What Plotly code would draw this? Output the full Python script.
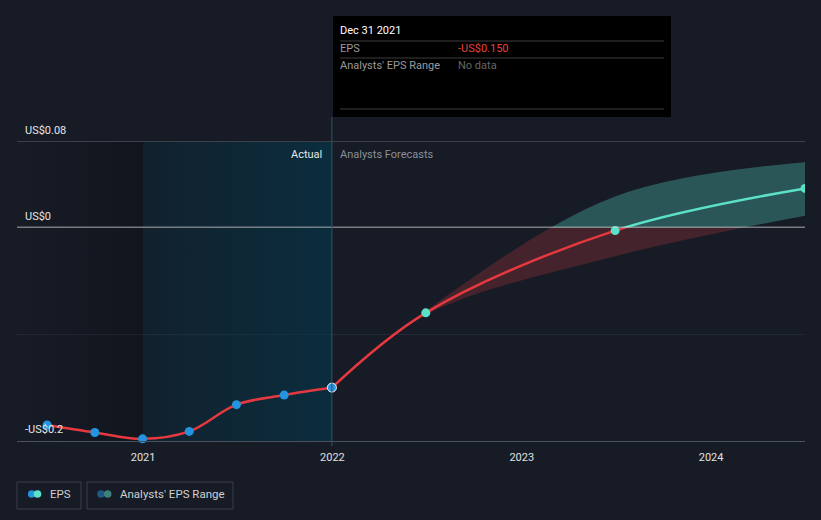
import plotly.graph_objects as go

# EPS actuals (quarterly)
actual_dates = ["2020-06-30", "2020-09-30", "2020-12-31", "2021-03-31",
                "2021-06-30", "2021-09-30", "2021-12-31"]
actual_eps = [-0.185, -0.192, -0.198, -0.191, -0.166, -0.157, -0.150]

# analyst forecasts (start at last actual)
fc_dates = ["2021-12-31", "2022-06-30", "2023-06-30", "2024-06-30"]
fc_eps = [-0.150, -0.080, -0.003, 0.0365]
fc_low = [-0.150, -0.082, -0.027, 0.011]
fc_high = [-0.150, -0.078, 0.029, 0.061]

year_ticks = ["2021-01-01", "2022-01-01", "2023-01-01", "2024-01-01"]
year_labels = ["2021", "2022", "2023", "2024"]

X_RANGE = ["2020-05-03", "2024-06-30"]
Y_LOW = [-0.2, 0]
Y_HIGH = [0, 0.1034]
GRID_TOP = 0.08
ACTUAL_START = "2021-01-01"
LAST_ACTUAL = actual_dates[-1]

BG = "#161b26"
RED = "#e5393f"
TEAL = "#5ce1c9"
BLUE = "#2394df"
FONT = "Roboto"

fig = go.Figure()


def add_region(yaxis, y0, y1):
    # darker stretch before the last year of actuals
    fig.add_trace(go.Scatter(
        x=[X_RANGE[0], ACTUAL_START, ACTUAL_START, X_RANGE[0]],
        y=[y0, y0, y1, y1],
        mode="none", fill="toself", hoverinfo="skip", showlegend=False,
        fillgradient=dict(type="horizontal",
                          colorscale=[[0, "rgba(0,0,0,0.0)"], [1, "rgba(0,0,0,0.22)"]]),
        yaxis=yaxis,
    ))
    # teal shading for the last year of actuals
    fig.add_trace(go.Scatter(
        x=[ACTUAL_START, LAST_ACTUAL, LAST_ACTUAL, ACTUAL_START],
        y=[y0, y0, y1, y1],
        mode="none", fill="toself", hoverinfo="skip", showlegend=False,
        fillgradient=dict(type="horizontal",
                          colorscale=[[0, "rgba(0,60,80,0.18)"], [1, "rgba(0,60,80,0.55)"]]),
        yaxis=yaxis,
    ))


def add_band(yaxis, color):
    fig.add_trace(go.Scatter(
        x=fc_dates, y=fc_low, mode="lines", line=dict(width=0, shape="spline"),
        hoverinfo="skip", showlegend=False, yaxis=yaxis,
    ))
    fig.add_trace(go.Scatter(
        x=fc_dates, y=fc_high, mode="lines", line=dict(width=0, shape="spline"),
        fill="tonexty", fillcolor=color, hoverinfo="skip", showlegend=False, yaxis=yaxis,
    ))


# bottom panel (negative values, red)
add_region("y", Y_LOW[0], 0)
add_band("y", "rgba(230,65,65,0.23)")
fig.add_trace(go.Scatter(x=actual_dates, y=actual_eps, mode="lines",
                         line=dict(color=RED, width=2.5, shape="spline"),
                         showlegend=False, yaxis="y"))
fig.add_trace(go.Scatter(x=fc_dates, y=fc_eps, mode="lines",
                         line=dict(color=RED, width=2.5, shape="spline"),
                         showlegend=False, yaxis="y"))

# top panel (positive values, teal)
add_region("y2", 0, GRID_TOP)
add_band("y2", "rgba(92,225,201,0.3)")
fig.add_trace(go.Scatter(x=fc_dates, y=fc_eps, mode="lines",
                         line=dict(color=TEAL, width=2.5, shape="spline"),
                         showlegend=False, yaxis="y2"))

# markers
fig.add_trace(go.Scatter(
    x=actual_dates, y=actual_eps, mode="markers", cliponaxis=False,
    marker=dict(color=BLUE, size=9,
                line=dict(color=["rgba(0,0,0,0)"] * (len(actual_dates) - 1) + ["#ffffff"],
                          width=1)),
    showlegend=False, yaxis="y",
))
neg = [(d, v) for d, v in zip(fc_dates[1:], fc_eps[1:]) if v < 0]
pos = [(d, v) for d, v in zip(fc_dates[1:], fc_eps[1:]) if v >= 0]
fig.add_trace(go.Scatter(x=[d for d, _ in neg], y=[v for _, v in neg], mode="markers",
                         cliponaxis=False, marker=dict(color=TEAL, size=9),
                         showlegend=False, yaxis="y"))
fig.add_trace(go.Scatter(x=[d for d, _ in pos], y=[v for _, v in pos], mode="markers",
                         cliponaxis=True, marker=dict(color=TEAL, size=9),
                         showlegend=False, yaxis="y2"))

PLOT_H = 324
split = 0.2 / (0.2 + Y_HIGH[1])

fig.update_layout(
    width=821, height=520,
    margin=dict(l=17, r=16, t=117, b=79),
    paper_bgcolor=BG, plot_bgcolor=BG,
    font=dict(family=FONT, color="#e6e6e6", size=11),
    showlegend=False,
    xaxis=dict(range=X_RANGE, tickvals=year_ticks, ticktext=year_labels,
               showgrid=False, zeroline=False, showline=True, linecolor="#4a505c",
               linewidth=1, ticks="", ticklabelstandoff=6,
               tickfont=dict(size=11, color="#e0e0e0")),
    yaxis=dict(domain=[0, split], range=Y_LOW, tickvals=[-0.2, -0.1],
               ticktext=["-US$0.2", ""], gridcolor="#232935", zeroline=False,
               ticklabelposition="inside top", ticklabelstandoff=5, ticklabelshift=-4,
               tickfont=dict(size=11, color="#e6e6e6")),
    yaxis2=dict(domain=[split, 1], range=Y_HIGH, anchor="x", tickvals=[0, GRID_TOP],
                ticktext=["US$0", "US$0.08"], gridcolor="#3a3f4a", zeroline=False,
                ticklabelposition="inside top", ticklabelstandoff=5, ticklabelshift=-4,
                tickfont=dict(size=11, color="#e6e6e6")),
)


def py(px):
    # pixel row -> paper y
    return (441 - px) / PLOT_H


def pxx(px):
    # pixel column -> paper x
    return (px - 17) / 788


shapes = [
    # zero line
    dict(type="line", xref="paper", x0=0, x1=1, yref="y2", y0=0, y1=0,
         line=dict(color="#d9d9d9", width=1.5)),
    # hover cursor line at last actual
    dict(type="line", xref="x", x0=LAST_ACTUAL, x1=LAST_ACTUAL, yref="paper",
         y0=py(446), y1=py(117), line=dict(color="#33525f", width=1)),
    # tooltip box
    dict(type="rect", xref="paper", yref="paper", x0=pxx(333), x1=pxx(671),
         y0=py(117), y1=py(16), fillcolor="#000000", line=dict(width=0)),
]
for row in [41, 58, 109]:
    shapes.append(dict(type="line", xref="paper", yref="paper", x0=pxx(340), x1=pxx(664),
                       y0=py(row), y1=py(row), line=dict(color="#3c3c3c", width=1)))

# legend boxes
for x0, x1 in [(17, 81), (87, 233)]:
    shapes.append(dict(type="rect", xref="paper", yref="paper", x0=pxx(x0), x1=pxx(x1),
                       y0=py(509), y1=py(482), line=dict(color="#3a3f4a", width=1),
                       fillcolor="rgba(0,0,0,0)"))
rx, ry = 3.8 / 788, 3.8 / PLOT_H
cy = py(494)
for cx_px, col in [(31.7, BLUE), (37.5, TEAL), (101, "#1f5a85"), (107.7, "#3d7f7a")]:
    cx = pxx(cx_px)
    shapes.append(dict(type="circle", xref="paper", yref="paper",
                       x0=cx - rx, x1=cx + rx, y0=cy - ry, y1=cy + ry,
                       fillcolor=col, line=dict(width=0)))
fig.update_layout(shapes=shapes)

ann = [
    dict(text="Actual", x=LAST_ACTUAL, xref="x", xshift=-8, xanchor="right",
         y=py(154), font=dict(color="#e6e6e6", size=11)),
    dict(text="Analysts Forecasts", x=LAST_ACTUAL, xref="x", xshift=6,
         y=py(154), font=dict(color="#8a8f98", size=11)),
    dict(text="Dec 31 2021", x=pxx(338), y=py(31), font=dict(color="#ffffff", size=11)),
    dict(text="EPS", x=pxx(338), y=py(49), font=dict(color="#9a9a9a", size=11)),
    dict(text="-US$0.150", x=pxx(456), y=py(49), font=dict(color="#e64141", size=11)),
    dict(text="Analysts' EPS Range", x=pxx(338), y=py(66), font=dict(color="#9a9a9a", size=11)),
    dict(text="No data", x=pxx(456), y=py(66), font=dict(color="#666666", size=11)),
    dict(text="EPS", x=pxx(48), y=cy, font=dict(color="#d0d0d0", size=11.5)),
    dict(text="Analysts' EPS Range", x=pxx(118), y=cy, font=dict(color="#d0d0d0", size=11.5)),
]
for a in ann:
    a.setdefault("xref", "paper")
    a.setdefault("yref", "paper")
    a.setdefault("xanchor", "left")
    a.setdefault("yanchor", "middle")
    a["showarrow"] = False
fig.update_layout(annotations=ann)

fig.write_html("out.html", config={"displayModeBar": False},
               post_script="document.body.style.margin='0';")
